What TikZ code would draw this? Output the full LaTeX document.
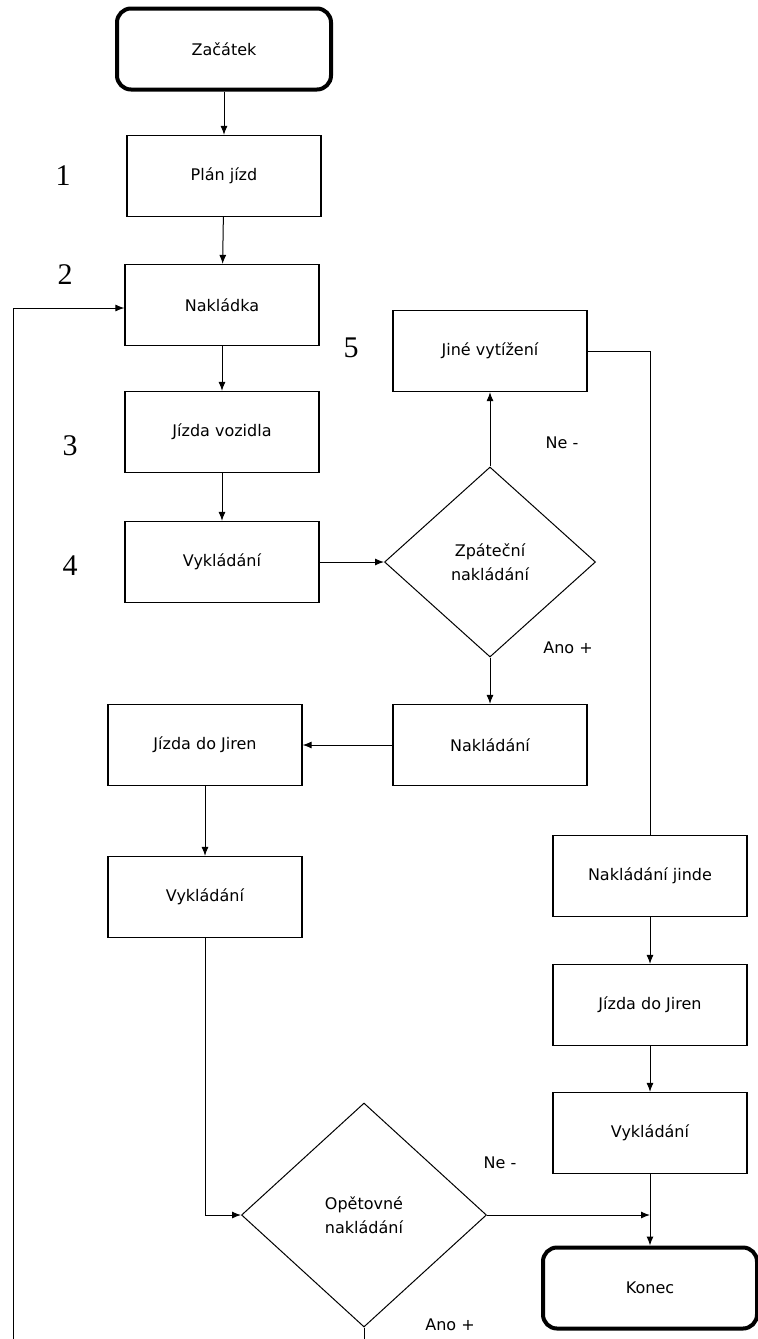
\documentclass[tikz,border=0pt]{standalone}
\usepackage{fontspec}
\setmainfont{DejaVu Sans}
\newfontfamily\numfont{Liberation Serif}
\usetikzlibrary{shapes.geometric,arrows.meta}

\begin{document}
\begin{tikzpicture}[x=0.5pt,y=-0.5pt,>={Latex[length=4.5pt,width=3.5pt]},
  box/.style={draw,line width=0.6pt,minimum width=97pt,minimum height=40.5pt,inner sep=0pt,font=\fontsize{8}{9}\selectfont},
  term/.style={draw,line width=2pt,rounded corners=7pt,minimum width=107pt,minimum height=40.5pt,inner sep=0pt,font=\fontsize{8}{9}\selectfont},
  dec/.style={draw,line width=0.5pt,diamond,inner sep=0pt,align=center,font=\fontsize{8}{12}\selectfont},
  lab/.style={font=\fontsize{8}{9}\selectfont},
  num/.style={font=\numfont\fontsize{15}{15}\selectfont}]
\useasboundingbox (0,0) rectangle (758,1339);
\node[term] (zacatek) at (224,49) {Začátek};
\node[box] (plan) at (224,176) {Plán jízd};
\node[box] (nakladka) at (222,305) {Nakládka};
\node[box] (jizda) at (222,432) {Jízda vozidla};
\node[box] (vyklad) at (222,562) {Vykládání};
\node[dec,minimum width=105.5pt,minimum height=95pt] (zpet) at (490,562) {Zpáteční\\nakládání};
\node[box] (jine) at (490,351) {Jiné vytížení};
\node[box] (naklad) at (490,745) {Nakládání};
\node[box] (jizdaL) at (205,745) {Jízda do Jiren};
\node[box] (vykladL) at (205,897) {Vykládání};
\node[box] (jinde) at (650,876) {Nakládání jinde};
\node[box] (jizdaR) at (650,1005) {Jízda do Jiren};
\node[box] (vykladR) at (650,1133) {Vykládání};
\node[dec,minimum width=122.5pt,minimum height=112pt] (opet) at (364,1215) {Opětovné\\nakládání};
\node[term] (konec) at (650,1288) {Konec};
\coordinate (spoj) at (650,1215);
\coordinate (dole) at (364,1339);
\coordinate (zpetA) at (13,1339);
\coordinate (zpetB) at (13,308);
% popisky
\node[num] (n1) at (63,176) {1};
\node[num] (n2) at (65,275) {2};
\node[num] (n3) at (70,446) {3};
\node[num] (n4) at (70,566) {4};
\node[num] (n5) at (351,348) {5};
\node[lab] (ne1) at (562,443) {Ne -};
\node[lab] (ano1) at (568,648) {Ano +};
\node[lab] (ne2) at (500,1163) {Ne -};
\node[lab] (ano2) at (450,1325) {Ano +};
\draw [->,line width=0.5pt](zacatek)--(plan);
\draw [->,line width=0.5pt](plan)--(nakladka);
\draw [->,line width=0.5pt](nakladka)--(jizda);
\draw [->,line width=0.5pt](jizda)--(vyklad);
\draw [->,line width=0.5pt](vyklad)--(zpet);
\draw [->,line width=0.5pt](zpet)--(jine);
\draw [->,line width=0.5pt](zpet)--(naklad);
\draw [line width=0.5pt](jine.east)-|(jinde.north);
\draw [->,line width=0.5pt](naklad)--(jizdaL);
\draw [->,line width=0.5pt](jizdaL)--(vykladL);
\draw [->,line width=0.5pt](vykladL.south)|-(opet.west);
\draw [->,line width=0.5pt](jinde)--(jizdaR);
\draw [->,line width=0.5pt](jizdaR)--(vykladR);
\draw [->,line width=0.5pt](vykladR)--(konec);
\draw [->,line width=0.5pt](opet.east)--(spoj);
\draw [line width=0.5pt](opet.south)--(dole);
\draw [->,line width=0.5pt](zpetA)--(zpetB)--(nakladka.west|-zpetB);
\end{tikzpicture}
\end{document}
